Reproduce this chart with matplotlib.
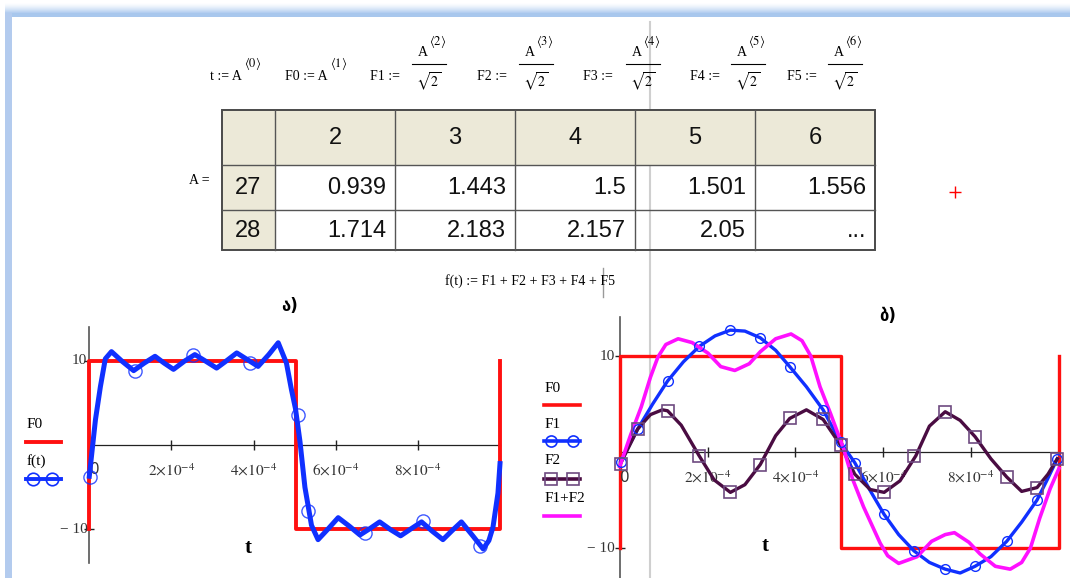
import numpy as np
import matplotlib.pyplot as plt
from matplotlib.patches import Rectangle
from matplotlib.transforms import offset_copy

plt.rcParams['mathtext.fontset'] = 'stix'
SERIF = ['Liberation Serif', 'DejaVu Serif']

W, H = 1070, 578

# ---------------- data ----------------
col_heads = ['2', '3', '4', '5', '6']
row_heads = ['27', '28']
row_vals = [['0.939', '1.443', '1.5', '1.501', '1.556'],
            ['1.714', '2.183', '2.157', '2.05', '...']]

# time axis in units of 1e-4 s
t_sq = [0, 0, 5.03, 5.03, 10, 10]
F0 = [-10, 10, 10, -10, -10, 10]

# f(t) = F1 + F2 + F3 + F4 + F5
t_f = [0.00, 0.15, 0.27, 0.39, 0.54, 0.80, 1.08, 1.34, 1.60, 1.82, 2.05, 2.31,
       2.57, 2.84, 3.10, 3.35, 3.59, 3.85, 4.11, 4.37, 4.60, 4.80, 4.92, 5.02,
       5.13, 5.25, 5.41, 5.57, 5.82, 6.06, 6.33, 6.59, 6.83, 7.07, 7.33, 7.58,
       7.84, 8.09, 8.35, 8.61, 8.84, 9.06, 9.33, 9.59, 9.73, 9.83, 9.95, 10.0]
f_line = [-3.7, 3.0, 6.9, 10.2, 11.05, 9.9, 8.8, 9.7, 10.5, 9.7, 8.95, 9.9,
          10.7, 9.9, 9.1, 10.0, 10.9, 10.1, 9.3, 10.7, 12.1, 9.7, 6.6, 4.3,
          0.4, -5.0, -9.5, -11.2, -9.9, -8.6, -9.6, -10.65, -9.9, -9.1, -10.0, -10.75,
          -9.9, -9.1, -10.2, -11.2, -10.1, -9.1, -10.7, -12.3, -11.3, -9.7, -5.7, -2.2]
t_f_pts = [0.02, 1.11, 2.52, 3.91, 5.07, 5.33, 6.71, 8.13, 9.51]
f_pts = [-3.75, 8.7, 10.6, 9.65, 3.6, -7.8, -10.45, -9.0, -11.95]

# first and third harmonic
t_F1 = [0.02, 0.41, 0.75, 1.09, 1.45, 1.81, 2.17, 2.52, 2.85, 3.20, 3.55, 3.87,
        4.25, 4.63, 5.03, 5.35, 5.70, 6.02, 6.35, 6.70, 7.05, 7.41, 7.75, 8.09,
        8.45, 8.81, 9.15, 9.50, 9.73, 9.96]
F1 = [-1.0, 2.4, 5.0, 7.4, 9.4, 11.0, 12.1, 12.7, 12.6, 11.9, 10.6, 8.9,
      6.8, 4.4, 1.0, -1.1, -4.0, -6.5, -8.6, -10.3, -11.5, -12.2, -12.6, -11.9,
      -10.9, -9.3, -7.3, -5.0, -2.9, -0.7]
t_F2 = [0.02, 0.41, 0.70, 0.97, 1.09, 1.40, 1.81, 2.15, 2.52, 2.85, 3.20, 3.55,
        3.87, 4.25, 4.63, 5.03, 5.35, 5.70, 6.02, 6.38, 6.74, 7.05, 7.41, 7.75,
        8.09, 8.45, 8.81, 9.15, 9.50, 9.75, 9.96]
F2 = [-1.2, 2.4, 3.9, 4.4, 4.3, 2.8, -0.4, -2.9, -4.2, -3.4, -1.3, 1.7,
      3.5, 4.4, 3.4, 0.7, -2.3, -3.9, -4.2, -3.0, -0.4, 2.7, 4.2, 3.3,
      1.6, -0.7, -2.6, -4.1, -3.7, -2.3, -0.7]
t_sum = [0.00, 0.25, 0.49, 0.70, 0.87, 1.05, 1.33, 1.65, 2.01, 2.30, 2.62, 2.95,
         3.20, 3.55, 3.90, 4.15, 4.35, 4.56, 4.80, 5.10, 5.30, 5.55, 5.93, 6.10,
         6.35, 6.77, 7.10, 7.41, 7.62, 7.95, 8.20, 8.55, 8.89, 9.15, 9.35, 9.56,
         9.80, 10.0]
F1F2 = [-1.5, 1.8, 4.7, 7.8, 9.9, 11.2, 11.8, 11.4, 10.3, 8.9, 8.5, 9.2,
        10.45, 11.8, 12.3, 11.6, 10.0, 6.8, 4.0, 0.3, -2.8, -5.7, -9.5, -10.8,
        -11.6, -10.9, -9.3, -8.6, -8.4, -9.4, -10.6, -11.9, -12.2, -11.5, -10.0, -6.9,
        -3.8, -1.7]
t_pts = [0.02, 0.41, 1.09, 1.81, 2.52, 3.20, 3.87, 4.63, 5.03, 5.35, 6.02, 6.70,
         7.41, 8.09, 8.81, 9.50, 9.96]
F1_pts = [-1.0, 2.4, 7.4, 11.0, 12.7, 11.9, 8.9, 4.4, 1.0, -1.1, -6.5, -10.3,
          -12.2, -11.9, -9.3, -5.0, -0.7]
F2_pts = [-1.2, 2.4, 4.3, -0.4, -4.2, -1.3, 3.5, 3.4, 0.7, -2.3, -4.2, -0.4,
          4.2, 1.6, -2.6, -3.7, -0.7]

x_ticks = [0, 2, 4, 6, 8]
x_tick_labels = ['0', r'$2{\times}10^{-4}$', r'$4{\times}10^{-4}$',
                 r'$6{\times}10^{-4}$', r'$8{\times}10^{-4}$']
y_ticks = [-10, 10]
y_tick_labels = ['\u2212 10', '10']

RED = '#ff1010'
BLUE = '#1030ff'
PURPLE = '#4a0c42'
SQ = '#6e4a80'
MAGENTA = '#ff10ff'

fig = plt.figure(figsize=(W / 100, H / 100), dpi=100)
bg = fig.add_axes([0, 0, 1, 1])
bg.set_xlim(0, W)
bg.set_ylim(H, 0)
bg.axis('off')

# window frame
top_c = np.array([0.66, 0.78, 0.93])
for i in range(12):
    k = i / 11
    c = 1 - (1 - top_c) * k ** 1.5
    bg.add_patch(Rectangle((5, 2 + i), W - 5, 1, color=c, lw=0))
bg.add_patch(Rectangle((5, 13), W - 5, 4, color=top_c, lw=0))
bg.add_patch(Rectangle((5, 13), 7, H - 13, color='#b3cbee', lw=0))

# cursor lines
bg.plot([650, 650], [22, H], color='#cfcfcf', lw=1.5, zorder=1)
bg.plot([603, 603], [268, 297], color='#9a9a9a', lw=1, zorder=1)

# definitions line
simple_defs = [('t', 0, 210, 244), ('F0', 1, 285, 330)]
for name, k, x, xs in simple_defs:
    bg.text(x, 77, f'{name} := A', fontsize=10, family=SERIF, va='center', ha='left')
    bg.text(xs, 63, rf'$\langle {k}\rangle$', fontsize=9, va='center', ha='left')
frac_defs = [('F1', 2, 370, 429), ('F2', 3, 477, 536), ('F3', 4, 583, 643),
             ('F4', 5, 690, 748), ('F5', 6, 787, 845)]
for name, k, x, cx in frac_defs:
    bg.text(x, 77, f'{name} :=', fontsize=10, family=SERIF, va='center', ha='left')
    bg.text(cx - 6, 52, 'A', fontsize=10, family=SERIF, va='center', ha='center')
    bg.text(cx, 41, rf'$\langle {k}\rangle$', fontsize=9, va='center', ha='left')
    bg.plot([cx - 17, cx + 17], [64, 64], color='black', lw=0.8)
    bg.text(cx, 82, r'$\sqrt{2}$', fontsize=10, va='center', ha='center')

# matrix A
col_edges = [222, 275, 395, 515, 635, 755, 875]
row_edges = [110, 165, 210, 250]
BEIGE = '#ece9d8'
bg.add_patch(Rectangle((col_edges[0], row_edges[0]), col_edges[-1] - col_edges[0],
                       row_edges[1] - row_edges[0], color=BEIGE, lw=0))
bg.add_patch(Rectangle((col_edges[0], row_edges[1]), col_edges[1] - col_edges[0],
                       row_edges[-1] - row_edges[1], color=BEIGE, lw=0))
for x in col_edges[1:-1]:
    bg.plot([x, x], [row_edges[0], row_edges[-1]], color='#555555', lw=1)
for y in row_edges[1:-1]:
    bg.plot([col_edges[0], col_edges[-1]], [y, y], color='#555555', lw=1)
bg.add_patch(Rectangle((col_edges[0], row_edges[0]), col_edges[-1] - col_edges[0],
                       row_edges[-1] - row_edges[0], fill=False, ec='#4a4a4a', lw=1.4))
for j, h in enumerate(col_heads):
    bg.text((col_edges[j + 1] + col_edges[j + 2]) / 2, (row_edges[0] + row_edges[1]) / 2 + 1,
            h, fontsize=17, family='Liberation Sans', ha='center', va='center', color='#111111')
for i, (rh, vals) in enumerate(zip(row_heads, row_vals)):
    yc = (row_edges[i + 1] + row_edges[i + 2]) / 2 + 1
    bg.text((col_edges[0] + col_edges[1]) / 2, yc, rh, fontsize=17,
            family='Liberation Sans', ha='center', va='center', color='#111111')
    for j, v in enumerate(vals):
        bg.text(col_edges[j + 2] - 9, yc, v, fontsize=17, family='Liberation Sans',
                ha='right', va='center', color='#111111')
bg.text(189, 180, 'A =', fontsize=10, family=SERIF, va='center', ha='left')
bg.text(530, 281, 'f(t) := F1 + F2 + F3 + F4 + F5', fontsize=10, family=SERIF,
        va='center', ha='center')
bg.plot(955, 192, '+', color='red', ms=8, mew=1)


def data_axes(x0, y0, x1, y1, ylim):
    ax = fig.add_axes([x0 / W, 1 - y1 / H, (x1 - x0) / W, (y1 - y0) / H])
    ax.set_xlim(0, 10)
    ax.set_ylim(-ylim, ylim)
    ax.patch.set_alpha(0)
    for s in ['top', 'right']:
        ax.spines[s].set_visible(False)
    ax.spines['left'].set_position(('data', 0))
    ax.spines['bottom'].set_position(('data', 0))
    ax.spines['left'].set_color('#555555')
    ax.spines['left'].set_linewidth(1.2)
    ax.spines['bottom'].set_color('#222222')
    ax.spines['bottom'].set_linewidth(0.9)
    ax.set_xticks(x_ticks[1:])
    ax.set_yticks(y_ticks)
    ax.tick_params(direction='inout', length=7, width=1, colors='#222222',
                   labelbottom=False, labelleft=False)
    return ax


def tick_texts(ax, dy, x0_shift, y_shift):
    off = offset_copy(ax.transData, fig=fig, x=0, y=-dy, units='dots')
    for xt, lab in zip(x_ticks, x_tick_labels):
        tr = off if xt else offset_copy(ax.transData, fig=fig, x=x0_shift, y=-dy, units='dots')
        ax.text(xt, 0, lab, transform=tr, fontsize=11, color='#333333',
                ha='center', va='center')
    offy = offset_copy(ax.transData, fig=fig, x=-y_shift, y=0, units='dots')
    for yt, lab in zip(y_ticks, y_tick_labels):
        ax.text(0, yt, lab, transform=offy, fontsize=11, family=SERIF,
                color='#333333', ha='right', va='center')


# ---- left chart: square wave and its partial sum ----
axL = data_axes(89.3, 326.7, 500, 563.3, 14)
axL.plot(t_sq, F0, color=RED, lw=2.8, clip_on=False, zorder=3)
axL.plot(t_f, f_line, color=BLUE, lw=3.6, clip_on=False, zorder=4,
         solid_joinstyle='round')
axL.plot(t_f_pts, f_pts, 'o', ms=9.5, mfc='none', mec=BLUE, mew=1, clip_on=False,
         zorder=5, alpha=0.8)
tick_texts(axL, 25, 6, 2)

# ---- right chart: harmonics ----
axR = data_axes(619.7, 316.7, 1059, 587.4, 14.1)
axR.plot(t_sq, F0, color=RED, lw=2.4, clip_on=False, zorder=3)
axR.plot(t_F1, F1, color=BLUE, lw=2.4, clip_on=False, zorder=4)
axR.plot(t_pts, F1_pts, 'o', ms=7, mfc='none', mec=BLUE, mew=1, clip_on=False, zorder=6)
axR.plot(t_F2, F2, color=PURPLE, lw=2.4, clip_on=False, zorder=4)
axR.plot(t_pts, F2_pts, 's', ms=8, mfc='none', mec=SQ, mew=1.2, clip_on=False, zorder=6)
axR.plot(t_sum, F1F2, color=MAGENTA, lw=2.6, clip_on=False, zorder=5)
tick_texts(axR, 25, 5, 5)

# titles and axis names
bg.text(290, 306, '\u10d0)', fontsize=12, fontweight='bold', family='DejaVu Sans',
        ha='center', va='center')
bg.text(888, 316, '\u10d1)', fontsize=12, fontweight='bold', family='DejaVu Sans',
        ha='center', va='center')
bg.text(248, 548, 't', fontsize=15, fontweight='bold', family=SERIF, ha='center', va='center')
bg.text(765, 546, 't', fontsize=15, fontweight='bold', family=SERIF, ha='center', va='center')

# legends
legL = [('F0', 425, 442, RED, None, 2.8), ('f(t)', 461, 479, BLUE, 'o', 2.8)]
for lab, ty, ly, c, m, lw in legL:
    bg.text(27, ty, lab, fontsize=11, family=SERIF, ha='left', va='center')
    bg.plot([26, 61], [ly, ly], color=c, lw=lw)
    if m:
        bg.plot([33, 52], [ly, ly], m, ms=9, mfc='none', mec=c, mew=1.2)

legR = [('F0', 389, 405, RED, None, None), ('F1', 424, 441, BLUE, 'o', BLUE),
        ('F2', 461, 479, PURPLE, 's', SQ), ('F1+F2', 499, 516, MAGENTA, None, None)]
for lab, ty, ly, c, m, mc in legR:
    bg.text(545, ty, lab, fontsize=11, family=SERIF, ha='left', va='center')
    bg.plot([544, 580], [ly, ly], color=c, lw=2.6)
    if m:
        bg.plot([551, 573], [ly, ly], m, ms=8, mfc='none', mec=mc, mew=1.2)

fig.savefig('out.png', dpi=100)
